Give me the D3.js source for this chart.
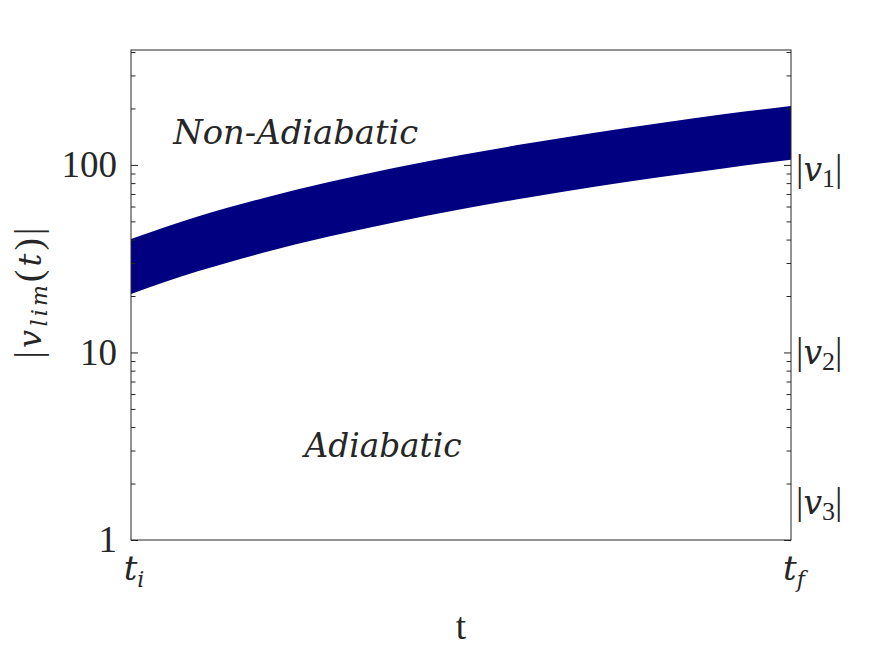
<!DOCTYPE html>
<html>
<head>
<meta charset="utf-8">
<script src="https://cdn.jsdelivr.net/npm/d3@7"></script>
<style>
  html, body { margin: 0; padding: 0; background: #fff; }
  svg { display: block; }
</style>
</head>
<body>
<svg id="chart" width="875" height="656"></svg>
<script>
// ---- data ----
const tFrac = [0, 0.1, 0.2, 0.3, 0.4, 0.5, 0.6, 0.7, 0.8, 0.9, 1.0];
const vLower = [20.5, 27.0, 34.0, 41.5, 49.5, 58, 66.9, 76.2, 86.0, 96.1, 106.6];
const vUpper = [40.3, 53, 66.5, 81, 96.5, 113, 130, 148, 167, 187, 206];
const yMajorTicks = [1, 10, 100];
const yMinorTicks = [2,3,4,5,6,7,8,9,20,30,40,50,60,70,80,90,200,300,400];
const xTickPos = [0, 1];
const xTickMain = ["t", "t"];
const xTickSub = ["i", "f"];
const rightLabelVals = [95, 10, 1.6];
const rightLabelSubs = ["1", "2", "3"];
const regionLabels = ["Non-Adiabatic", "Adiabatic"];
const regionVals = [{t: 0.064, v: 130}, {t: 0.263, v: 2.77}];
const regionWidths = [245, 157];

// ---- layout ----
const svg = d3.select("#chart");
const L = 131, R = 791, T = 50, B = 540;
const x = d3.scaleLinear().domain([0, 1]).range([L, R]);
const y = d3.scaleLog().domain([1, 410]).range([B, T]);
const ink = "#262626";
const fs = 37;
const UP = "'Liberation Serif', serif";
const IT = "'DejaVu Serif', serif";
function up(sel, size) { return sel.style("font-family", UP).style("font-style", "normal").attr("font-size", size); }
function it(sel, size) { return sel.style("font-family", IT).style("font-style", "italic").attr("font-size", size); }

// band
const pts = tFrac.map((t, i) => ({t, lo: vLower[i], hi: vUpper[i]}));
const area = d3.area()
  .x(d => x(d.t))
  .y0(d => y(d.lo))
  .y1(d => y(d.hi))
  .curve(d3.curveMonotoneX);
svg.append("path").datum(pts).attr("d", area).attr("fill", "#000080");

function axisStyle(g) {
  g.select(".domain").remove();
  g.selectAll(".tick line").attr("stroke", ink);
}
// left axis
const gL = svg.append("g").attr("transform", `translate(${L},0)`);
gL.call(d3.axisLeft(y).tickValues(yMajorTicks).tickSizeInner(-7).tickSizeOuter(0)
  .tickPadding(14).tickFormat(d3.format("d")));
axisStyle(gL);
up(gL.selectAll(".tick text"), fs).attr("fill", ink).attr("dy", "0.32em");
const gLm = svg.append("g").attr("transform", `translate(${L},0)`);
gLm.call(d3.axisLeft(y).tickValues(yMinorTicks).tickSizeInner(-4.5).tickSizeOuter(0).tickFormat(""));
axisStyle(gLm);

// right axis
const gR = svg.append("g").attr("transform", `translate(${R},0)`);
gR.call(d3.axisRight(y).tickValues(yMajorTicks).tickSizeInner(-7).tickSizeOuter(0).tickFormat(""));
axisStyle(gR);
const gRm = svg.append("g").attr("transform", `translate(${R},0)`);
gRm.call(d3.axisRight(y).tickValues(yMinorTicks).tickSizeInner(-4.5).tickSizeOuter(0).tickFormat(""));
axisStyle(gRm);

// box
svg.append("rect").attr("x", L).attr("y", T).attr("width", R - L).attr("height", B - T)
  .attr("fill", "none").attr("stroke", ink).attr("stroke-width", 1);

// x tick labels
xTickPos.forEach((p, i) => {
  const tx = it(svg.append("text"), 34).attr("x", x(p) + 3).attr("y", 580)
    .attr("text-anchor", "middle").attr("fill", ink);
  tx.append("tspan").text(xTickMain[i]);
  tx.append("tspan").attr("font-size", 22).attr("dy", 7).text(xTickSub[i]);
});

// x label
up(svg.append("text"), fs).attr("x", (L + R) / 2).attr("y", 639).attr("text-anchor", "middle")
  .attr("fill", ink).text("t");

// y label
const yl = up(svg.append("text"), fs).attr("transform", "translate(41,293) rotate(-90)")
  .attr("text-anchor", "middle").attr("fill", ink)
  .attr("textLength", 131).attr("lengthAdjust", "spacing");
yl.append("tspan").text("|");
it(yl.append("tspan"), 32).text("v");
it(yl.append("tspan"), 22).attr("dy", 6).text("lim");
yl.append("tspan").attr("dy", -6).text("(");
it(yl.append("tspan"), 32).text("t");
yl.append("tspan").text(")|");

// right labels
rightLabelVals.forEach((v, i) => {
  const tx = up(svg.append("text"), fs).attr("x", R + 5).attr("y", y(v) + 12).attr("fill", ink);
  tx.append("tspan").text("|");
  it(tx.append("tspan"), 33).text("v");
  tx.append("tspan").attr("font-size", 26).attr("dy", 6).text(rightLabelSubs[i]);
  tx.append("tspan").attr("dy", -6).text("|");
});

// region labels
regionLabels.forEach((s, i) => {
  it(svg.append("text"), 34).attr("x", x(regionVals[i].t)).attr("y", y(regionVals[i].v))
    .attr("fill", ink)
    .attr("textLength", regionWidths[i]).attr("lengthAdjust", "spacingAndGlyphs").text(s);
});
</script>
</body>
</html>
